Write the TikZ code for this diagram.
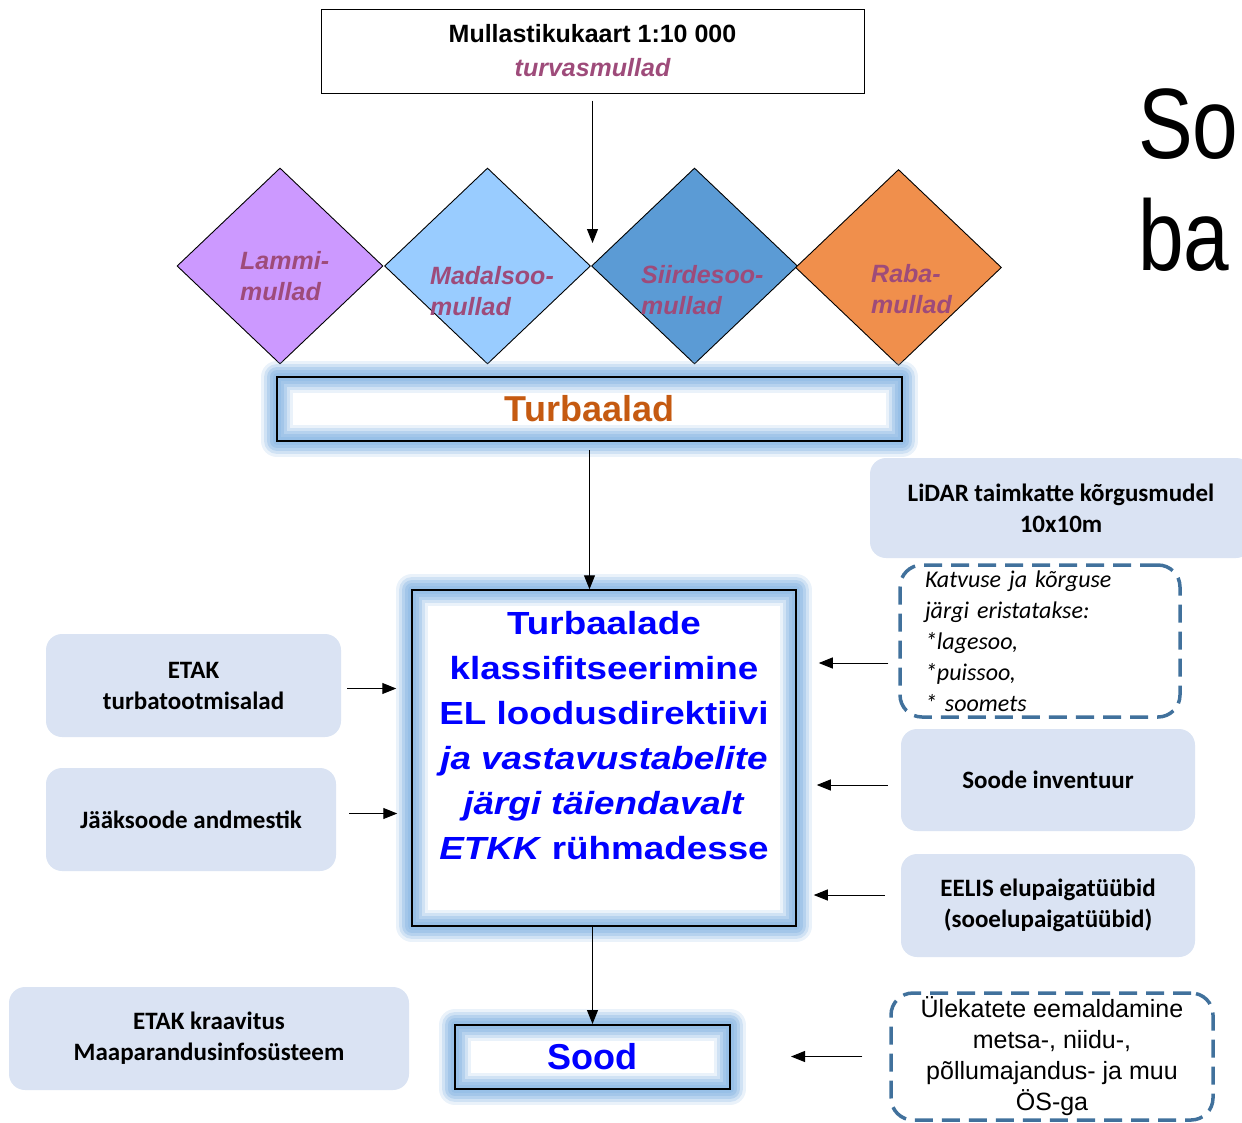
\documentclass[tikz,border=0pt]{standalone}
\usepackage{fontspec}
\setmainfont{Liberation Sans}
\newfontfamily\calfont{Carlito}
\newfontfamily\widefont[FakeStretch=1.15]{Liberation Sans}
\newfontfamily\slidefont[FakeStretch=0.82]{Liberation Sans}
\usetikzlibrary{arrows.meta,shapes.geometric,calc}
\definecolor{lammicol}{RGB}{204,153,255}
\definecolor{madalcol}{RGB}{153,204,255}
\definecolor{siirdecol}{RGB}{91,155,213}
\definecolor{rabacol}{RGB}{240,143,76}
\definecolor{soiltext}{RGB}{158,75,122}
\definecolor{turbcol}{RGB}{197,90,17}
\definecolor{boxfill}{RGB}{218,227,243}
\definecolor{dashcol}{RGB}{65,113,156}
\definecolor{glowcol}{RGB}{150,190,230}
\tikzstyle{arr}=[line width=1pt,-{Triangle[length=14pt,width=11pt]}]
\tikzstyle{dia}=[diamond,draw=black,line width=0.9pt,minimum width=206pt,minimum height=196pt,inner sep=0pt]
\tikzstyle{soil}=[font=\fontsize{25}{31}\selectfont\bfseries\itshape,text=soiltext,align=left,inner sep=0pt]
\tikzstyle{glow}=[preaction={draw=glowcol,line join=round,line width=32pt,opacity=0.2},
  preaction={draw=glowcol,line join=round,line width=26pt,opacity=0.3},
  preaction={draw=glowcol,line join=round,line width=20pt,opacity=0.45},
  preaction={draw=glowcol,line join=round,line width=14pt,opacity=0.6},
  preaction={draw=glowcol,line join=round,line width=8pt,opacity=0.8}]
\tikzstyle{blk}=[draw=black,line width=2pt,glow,inner sep=0pt,align=center]
\tikzstyle{src}=[fill=boxfill,rounded corners=16pt,font=\calfont\fontsize{25}{31}\selectfont\bfseries,align=center,inner sep=0pt]
\tikzstyle{note}=[draw=dashcol,line width=3.5pt,dash pattern=on 18pt off 9pt,rounded corners=22pt,inner sep=0pt]

\begin{document}
\begin{tikzpicture}[x=1pt,y=-1pt]
  \useasboundingbox (0,0) rectangle (1242,1122);
  \clip (0,0) rectangle (1242,1122);

  \node[draw,line width=1pt,minimum width=543pt,minimum height=84pt,align=center,
    font=\fontsize{25}{34}\selectfont\bfseries] (map) at (592.5,51)
    {Mullastikukaart 1:10 000\\\textcolor{soiltext}{\itshape turvasmullad}};
  \coordinate (meet) at (592.5,243);

  \node[dia,fill=lammicol] (d1) at (280,266) {};
  \node[dia,fill=madalcol] (d2) at (487.5,266) {};
  \node[dia,fill=siirdecol] (d3) at (694.5,266) {};
  \node[dia,fill=rabacol] (d4) at (898.5,267.5) {};
  \node[soil,anchor=west] (s1) at (240,276) {Lammi-\\mullad};
  \node[soil,anchor=west] (s2) at (430,291) {Madalsoo-\\mullad};
  \node[soil,anchor=west] (s3) at (641,290) {Siirdesoo-\\mullad};
  \node[soil,anchor=west] (s4) at (871,289) {Raba-\\mullad};

  \node[blk,minimum width=625pt,minimum height=64pt,text=turbcol,
    font=\fontsize{36}{40}\selectfont\bfseries] (turb) at (589.5,409) {Turbaalad};

  \node[blk,line width=1.5pt,minimum width=384pt,minimum height=336pt,text=blue,
    font=\widefont\fontsize{32}{45}\selectfont\bfseries] (main) at (604,758)
    {Turbaalade\\klassifitseerimine\\EL loodusdirektiivi\\\textit{ja vastavustabelite}\\
     \textit{järgi täiendavalt}\\\textit{ETKK} rühmadesse\\\mbox{}};

  \node[blk,minimum width=275pt,minimum height=64pt,text=blue,
    font=\fontsize{36}{40}\selectfont\bfseries] (sood) at (592.5,1057) {Sood};

  \node[src,minimum width=295pt,minimum height=103pt] (etak) at (193.5,685.5) {ETAK\\turbatootmisalad};
  \node[src,minimum width=290pt,minimum height=103pt] (jaak) at (191,819.5) {Jääksoode andmestik};
  \node[src,minimum width=400pt,minimum height=103pt] (kraav) at (209,1038.5) {ETAK kraavitus\\Maaparandusinfosüsteem};

  \node[src,minimum width=382pt,minimum height=100pt] (lidar) at (1061,508) {LiDAR taimkatte kõrgusmudel\\10x10m};
  \node[note,minimum width=280pt,minimum height=152pt,text width=230pt,align=left,
    font=\calfont\fontsize{24}{31}\selectfont\itshape] (katv) at (1040,641)
    {Katvuse ja kõrguse\\järgi eristatakse:\\{*}lagesoo,\\{*}puissoo,\\{*} soomets};
  \node[src,minimum width=294pt,minimum height=102pt] (inv) at (1048,780) {Soode inventuur};
  \node[src,minimum width=294pt,minimum height=103pt] (eelis) at (1048,905.5) {EELIS elupaigatüübid\\(sooelupaigatüübid)};
  \node[note,minimum width=322pt,minimum height=127pt,align=center,
    font=\fontsize{25}{31}\selectfont] (ulek) at (1052,1056.5)
    {Ülekatete eemaldamine\\metsa-, niidu-,\\põllumajandus- ja muu\\ÖS-ga};

  \node[anchor=base west,inner sep=0pt,font=\slidefont\fontsize{100}{112}\selectfont] (ttl1) at (1138,158) {So};
  \node[anchor=base west,inner sep=0pt,font=\slidefont\fontsize{100}{112}\selectfont] (ttl2) at (1138,270) {ba};

  \draw[arr] ([yshift=-7pt]map.south) -- (meet);
  \draw[arr] ([yshift=-8pt]turb.south) -- (turb.south |- main.north);
  \draw[arr] (sood.north |- main.south) -- (sood.north);
  \draw[arr] ([xshift=6pt,yshift=-3pt]etak.east) -- ([xshift=-15pt,yshift=-3pt]main.west |- etak.east);
  \draw[arr] ([xshift=13pt,yshift=6pt]jaak.east) -- ([xshift=-14pt,yshift=6pt]main.west |- jaak.east);
  \draw[arr] ([xshift=-10pt,yshift=-22pt]katv.west) -- ([xshift=22pt,yshift=-22pt]main.east |- katv.west);
  \draw[arr] ([xshift=-13pt,yshift=-5pt]inv.west) -- ([xshift=20pt,yshift=-5pt]main.east |- inv.west);
  \draw[arr] ([xshift=-16pt,yshift=10.5pt]eelis.west) -- ([xshift=17pt,yshift=10.5pt]main.east |- eelis.west);
  \draw[arr] ([xshift=-27pt]ulek.west) -- ([xshift=60pt]sood.east |- ulek.west);
\end{tikzpicture}
\end{document}
